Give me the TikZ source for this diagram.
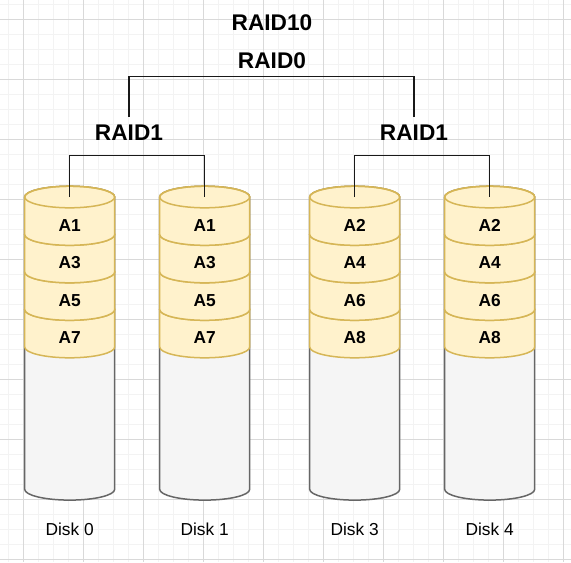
\documentclass[tikz,border=0pt]{standalone}
\usepackage{fontspec}
\setmainfont{Liberation Sans}
\definecolor{bandfill}{HTML}{FFF2CC}
\definecolor{bandline}{HTML}{D6B656}
\definecolor{diskfill}{HTML}{F5F5F5}
\definecolor{diskline}{HTML}{666666}
\definecolor{gridmajor}{HTML}{D9D9D9}
\definecolor{gridminor}{HTML}{F3F3F3}
\tikzset{
  raidlbl/.style={font=\fontsize{17}{18}\selectfont\bfseries, inner xsep=0pt, inner ysep=6pt},
  celllbl/.style={font=\fontsize{13}{14}\selectfont\bfseries, inner sep=0pt},
  disklbl/.style={font=\fontsize{13}{14}\selectfont, inner sep=0pt},
  link/.style={line width=1.125pt, black!90},
  band/.style={fill=bandfill, draw=bandline, line width=1.125pt},
  body/.style={fill=diskfill, draw=diskline, line width=1.125pt}
}
\begin{document}
\begin{tikzpicture}[x=0.75pt,y=0.75pt]
      \useasboundingbox (0,0) rectangle (571,-562);
      % background grid
      \foreach \g in {8.3,23.3,...,571}{
        \draw[gridminor, line width=0.75pt] (\g,0) -- (\g,-562);
      }
      \foreach \g in {4.3,19.3,...,562}{
        \draw[gridminor, line width=0.75pt] (0,-\g) -- (571,-\g);
      }
      \foreach \g in {23.3,83.3,...,571}{
        \draw[gridmajor, line width=0.75pt] (\g,0) -- (\g,-562);
      }
      \foreach \g in {19.3,79.3,...,562}{
        \draw[gridmajor, line width=0.75pt] (0,-\g) -- (571,-\g);
      }
      % titles
      \node[raidlbl] (raid10) at (272,-22.5) {RAID10};
      \node[raidlbl] (raid0) at (272,-60.5) {RAID0};
      \node[raidlbl] (raid1a) at (129,-133) {RAID1};
      \node[raidlbl] (raid1b) at (414,-133) {RAID1};

      % the disks, stripes drawn from the bottom up
      \foreach \x/\n/\m/\a/\b/\c/\d in {69.7/0/0/A1/A3/A5/A7, 204.7/1/1/A1/A3/A5/A7,
          354.7/2/3/A2/A4/A6/A8, 489.7/3/4/A2/A4/A6/A8}{
        \filldraw[body] ({\x-45},-197) -- ({\x-45},-489.3) arc (180:360:45 and 10.8)
          -- ({\x+45},-197) arc (0:180:45 and 10.8) -- cycle;
        \foreach \k/\lbl in {3/\d,2/\c,1/\b,0/\a}{
          \filldraw[band] ({\x-45},{-197-37.5*\k}) -- ({\x-45},{-234.5-37.5*\k})
            arc (180:360:45 and 10.8) -- ({\x+45},{-197-37.5*\k})
            arc (0:180:45 and 10.8) -- cycle;
          \draw[band, fill=none] (\x,{-197-37.5*\k}) ellipse (45 and 10.8);
          \node[celllbl] (cell\n\k) at (\x,{-225.5-37.5*\k}) {\lbl};
        }
        \coordinate (disk\n) at (\x,-197);
        \node[disklbl] (diskname\n) at (\x,-529.7) {Disk \m};
      }

      % RAID0 bracket
      \coordinate (bar0) at (271.5,-76.7);
      \draw[link] (raid1a.north) |- (bar0) -| (raid1b.north);
      % RAID1 brackets
      \coordinate (bar1a) at (137.2,-155.3);
      \coordinate (bar1b) at (422.2,-155.3);
      \draw[link] (disk0) |- (bar1a) -| (disk1);
      \draw[link] (disk2) |- (bar1b) -| (disk3);
\end{tikzpicture}
\end{document}
